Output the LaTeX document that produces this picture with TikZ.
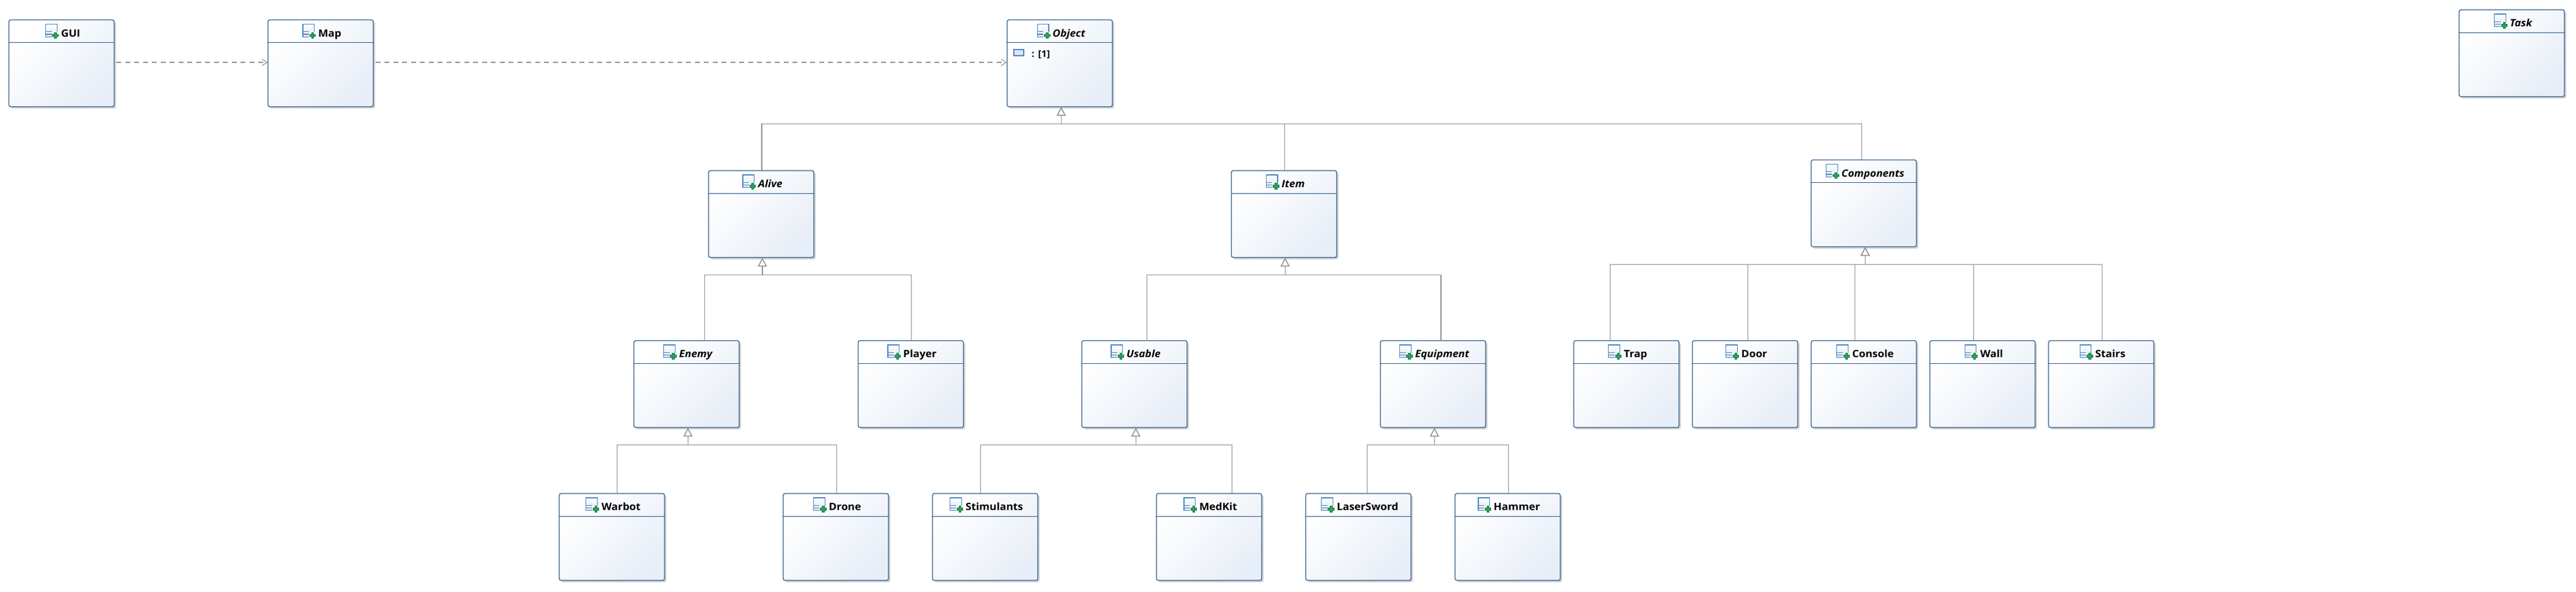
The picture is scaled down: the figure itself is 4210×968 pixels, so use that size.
\documentclass[tikz,border=0pt]{standalone}
\usepackage{fontspec}
\setmainfont{Open Sans}[FakeStretch=1.05]
\usetikzlibrary{arrows.meta,shadows}
\definecolor{classedge}{HTML}{2B5B8C}
\definecolor{classend}{HTML}{E8EEF7}
\definecolor{iconblue}{HTML}{4F86BD}
\definecolor{iconpale}{HTML}{D9E6F4}
\definecolor{plusgreen}{HTML}{2E9E62}
\definecolor{plusedge}{HTML}{0F7F45}
\definecolor{linkgray}{HTML}{929292}
\tikzset{
  classbox/.style={rectangle,draw=classedge,line width=1.3pt,rounded corners=3pt,
    minimum width=172pt,minimum height=142pt,inner sep=0pt,
    top color=white,bottom color=classend,shading angle=45,
    drop shadow={shadow xshift=3pt,shadow yshift=-3pt,fill=black!30,opacity=.6}},
  classtitle/.style={anchor=base,inner sep=0pt,font=\fontsize{16.5}{18}\selectfont\bfseries},
  abstracttitle/.style={classtitle,font=\fontsize{16.5}{18}\selectfont\bfseries\itshape},
  headline/.style={draw=classedge,line width=1.1pt},
  genline/.style={draw=linkgray,line width=1.3pt,
    -{Triangle[open,length=14pt,width=14.5pt,fill=white,line width=1.4pt]}},
  depline/.style={draw=linkgray,line width=1.2pt,dash pattern=on 8pt off 6.5pt,
    -{Straight Barb[length=8pt,width=11pt,line width=1.2pt]}},
  attrbox/.style={rectangle,draw=iconblue,line width=2pt,fill=iconpale,
    minimum width=16pt,minimum height=10pt,inner sep=0pt},
  attrtext/.style={anchor=base west,inner sep=0pt,font=\fontsize{15}{18}\selectfont\bfseries},
  classicon/.pic={
    \shade[top color=white,bottom color=iconpale] (0,-21) rectangle (18.7,0);
    \draw[iconblue,line width=1.2pt] (18.7,-8) -- (18.7,-21) -- (0,-21) -- (0,0) -- (10,0);
    \draw[iconblue,line width=1.6pt] (0,-21) -- (18.7,-21);
    \draw[iconblue,line width=1.1pt] (0,-8.7) -- (10,-8.7) (0,-4.3) -- (10,-4.3);
    \fill[white] (10,-8) rectangle (21,2.5);
    \draw[plusedge,line width=.7pt,fill=plusgreen]
      (14.1,-7.3) -- (17.7,-7.3) -- (17.7,-4.3) -- (20.7,-4.3) -- (20.7,-.7) -- (17.7,-.7)
      -- (17.7,2.3) -- (14.1,2.3) -- (14.1,-.7) -- (11.1,-.7) -- (11.1,-4.3) -- (14.1,-4.3) -- cycle;
  }
}
\newcommand{\classparts}[3][classtitle]{
  \node[#1] (#2title) at ([xshift=2.5pt,yshift=-28.5pt]#2.north) {\hspace*{25pt}#3};
  \pic at (#2title.base west) {classicon};
  \draw[headline] ([yshift=-38pt]#2.north west) -- ([yshift=-38pt]#2.north east);
}
\begin{document}
\begin{tikzpicture}[x=1pt,y=-1pt]
      \useasboundingbox (0,0) rectangle (4210,968);
      \draw
        (100.5,103.5) node[classbox] (gui){}
        (524,103.5) node[classbox] (map){}
        (1732,103.5) node[classbox] (object){}
        (4105,87) node[classbox] (task){}
        (1244,350) node[classbox] (alive){}
        (2098.5,350) node[classbox] (item){}
        (3046,332.5) node[classbox] (components){}
        (1122,628) node[classbox] (enemy){}
        (1488.5,628) node[classbox] (player){}
        (1854,628) node[classbox] (usable){}
        (2342,628) node[classbox] (equipment){}
        (2658,628) node[classbox] (trap){}
        (2852,628) node[classbox] (door){}
        (3046,628) node[classbox] (console){}
        (3240,628) node[classbox] (wall){}
        (3434,628) node[classbox] (stairs){}
        (1000,878) node[classbox] (warbot){}
        (1366,878) node[classbox] (drone){}
        (1610,878) node[classbox] (stimulants){}
        (1976,878) node[classbox] (medkit){}
        (2220,878) node[classbox] (lasersword){}
        (2464,878) node[classbox] (hammer){};
      \classparts{gui}{GUI}
      \classparts{map}{Map}
      \classparts[abstracttitle]{object}{Object}
      \classparts[abstracttitle]{task}{Task}
      \classparts[abstracttitle]{alive}{Alive}
      \classparts[abstracttitle]{item}{Item}
      \classparts[abstracttitle]{components}{Components}
      \classparts[abstracttitle]{enemy}{Enemy}
      \classparts{player}{Player}
      \classparts[abstracttitle]{usable}{Usable}
      \classparts[abstracttitle]{equipment}{Equipment}
      \classparts{trap}{Trap}
      \classparts{door}{Door}
      \classparts{console}{Console}
      \classparts{wall}{Wall}
      \classparts{stairs}{Stairs}
      \classparts{warbot}{Warbot}
      \classparts{drone}{Drone}
      \classparts{stimulants}{Stimulants}
      \classparts{medkit}{MedKit}
      \classparts{lasersword}{LaserSword}
      \classparts{hammer}{Hammer}
      \node[attrbox] (objecticon) at (1664.5,86) {};
      \node[attrtext] (objectattr) at (1686,94) {:\hspace{6pt}[1]};
      \begin{scope}[depline]
        \draw ([yshift=1.5pt,xshift=3pt]gui.east) to ([yshift=1.5pt]map.west);
        \draw ([yshift=1.5pt,xshift=3pt]map.east) to ([yshift=1.5pt]object.west);
      \end{scope}
      \begin{scope}[genline]
        \draw ([xshift=1pt]alive.north) -- ++(0,-76) -| ([xshift=2.3pt]object.south);
        \draw ([xshift=.8pt]item.north) -- ++(0,-76) -| ([xshift=2.3pt]object.south);
        \draw ([xshift=-3.7pt]components.north) -- ++(0,-58.5) -| ([xshift=2.3pt]object.south);
        \draw ([xshift=29.3pt]enemy.north) -- ++(0,-107) -| ([xshift=2pt]alive.south);
        \draw ([xshift=.8pt]player.north) -- ++(0,-107) -| ([xshift=2pt]alive.south);
        \draw ([xshift=20.3pt]usable.north) -- ++(0,-107) -| ([xshift=1.8pt]item.south);
        \draw ([xshift=13pt]equipment.north) -- ++(0,-107) -| ([xshift=1.8pt]item.south);
        \draw ([xshift=-26.7pt]trap.north) -- ++(0,-124) -| ([xshift=2.3pt]components.south);
        \draw ([xshift=4.3pt]door.north) -- ++(0,-124) -| ([xshift=2.3pt]components.south);
        \draw ([xshift=-14.7pt]console.north) -- ++(0,-124) -| ([xshift=2.3pt]components.south);
        \draw ([xshift=-14.7pt]wall.north) -- ++(0,-124) -| ([xshift=2.3pt]components.south);
        \draw ([xshift=1.3pt]stairs.north) -- ++(0,-124) -| ([xshift=2.3pt]components.south);
        \draw ([xshift=8.3pt]warbot.north) -- ++(0,-79) -| ([xshift=2.3pt]enemy.south);
        \draw ([xshift=1.3pt]drone.north) -- ++(0,-79) -| ([xshift=2.3pt]enemy.south);
        \draw ([xshift=-7.7pt]stimulants.north) -- ++(0,-79) -| ([xshift=2.3pt]usable.south);
        \draw ([xshift=37.3pt]medkit.north) -- ++(0,-79) -| ([xshift=2.3pt]usable.south);
        \draw ([xshift=14.3pt]lasersword.north) -- ++(0,-79) -| ([xshift=2.3pt]equipment.south);
        \draw ([xshift=1.3pt]hammer.north) -- ++(0,-79) -| ([xshift=2.3pt]equipment.south);
      \end{scope}
    \end{tikzpicture}
\end{document}
